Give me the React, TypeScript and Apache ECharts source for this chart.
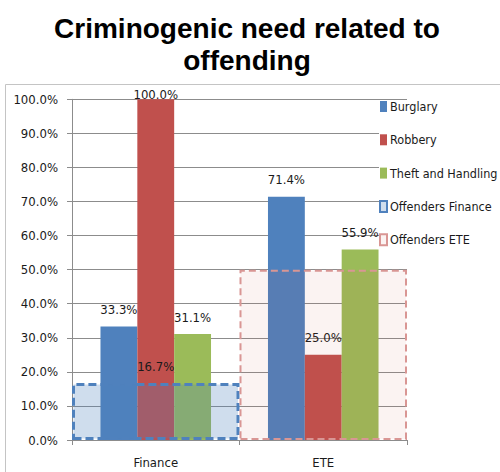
import React, { useEffect, useRef } from "react";
import * as echarts from "echarts";

// Categories and series values (percent)
const categories = ["Finance", "ETE"];
const burglary = [33.3, 71.4];
const robbery = [100.0, 25.0];
const theftAndHandling = [31.1, 55.9];
const offendersFinance: (number | string)[] = [16.7, "-"];
const offendersETE: (number | string)[] = ["-", 50.0];

const titleLines = ["Criminogenic need related to", "offending"];

const NARROW = '"DejaVu Sans Condensed", "Liberation Sans Narrow", sans-serif';
const TEXT = "#1a1a1a";
const GRID = "#8c8c8c";
const FS = 13;

const pct = (v: number) => v.toFixed(1) + "%";

export default function App() {
  const ref = useRef<HTMLDivElement>(null);

  useEffect(() => {
    if (!ref.current) return;
    const chart = echarts.init(ref.current, undefined, { renderer: "svg" });

    const valueLabel = {
      show: true,
      position: "top",
      distance: 10.5,
      color: TEXT,
      fontFamily: NARROW,
      fontSize: FS,
      lineHeight: FS,
      formatter: (p: any) => pct(p.value),
    };

    const robberyData = robbery.map((v) =>
      v >= 100 ? { value: v, label: { distance: -1.2 } } : v
    );

    chart.setOption({
      animation: false,
      backgroundColor: "#ffffff",
      title: {
        text: titleLines.join("\n"),
        left: 242,
        top: 7,
        textAlign: "center",
        textStyle: {
          fontFamily: "Arial, 'Liberation Sans', sans-serif",
          fontWeight: "bold",
          fontSize: 28,
          lineHeight: 32.5,
          color: "#000",
        },
      },
      graphic: [
        {
          type: "rect",
          shape: { x: 5.5, y: 84.5, width: 520, height: 420 },
          style: { fill: "none", stroke: "#c4c4c4", lineWidth: 1 },
          silent: true,
          z: -10,
        },
      ],
      legend: {
        orient: "vertical",
        left: 379,
        top: 100,
        padding: 0,
        itemGap: 20.3,
        itemWidth: 7,
        itemHeight: 11,
        backgroundColor: "#ffffff",
        icon: "rect",
        data: [
          "Burglary",
          "Robbery",
          "Theft and Handling",
          "Offenders Finance",
          "Offenders ETE",
        ],
        textStyle: {
          fontFamily: NARROW,
          fontSize: 12.5,
          lineHeight: FS,
          color: TEXT,
          padding: [0, 0, 0, -2],
        },
        z: 20,
      },
      grid: { left: 72, right: 93, top: 99.3, bottom: 32, containLabel: false },
      xAxis: [
        {
          type: "category",
          data: categories,
          axisLine: { show: true, lineStyle: { color: GRID } },
          axisTick: { show: true, length: 5, lineStyle: { color: GRID } },
          axisLabel: {
            color: TEXT,
            fontFamily: NARROW,
            fontSize: FS,
            margin: 16,
          },
        },
        {
          type: "category",
          data: categories,
          show: false,
        },
      ],
      yAxis: {
        type: "value",
        min: 0,
        max: 100,
        interval: 10,
        axisLine: { show: true, lineStyle: { color: GRID } },
        axisTick: { show: true, length: 5, lineStyle: { color: GRID } },
        splitLine: { show: true, lineStyle: { color: GRID, width: 1 } },
        axisLabel: {
          color: TEXT,
          fontFamily: NARROW,
          fontSize: FS,
          margin: 14,
          formatter: (v: number) => pct(v),
        },
      },
      series: [
        {
          name: "Burglary",
          type: "bar",
          data: burglary,
          barGap: "0%",
          barCategoryGap: "34%",
          itemStyle: { color: "#4f81bd" },
          label: valueLabel,
          z: 2,
        },
        {
          name: "Robbery",
          type: "bar",
          data: robberyData,
          barGap: "0%",
          barCategoryGap: "34%",
          itemStyle: { color: "#c0504d" },
          label: valueLabel,
          z: 2,
        },
        {
          name: "Theft and Handling",
          type: "bar",
          data: theftAndHandling,
          barGap: "0%",
          barCategoryGap: "34%",
          itemStyle: { color: "#9bbb59" },
          label: valueLabel,
          z: 2,
        },
        {
          name: "Offenders Finance",
          type: "bar",
          xAxisIndex: 1,
          data: offendersFinance,
          barWidth: "100%",
          barGap: "-100%",
          itemStyle: {
            color: "rgba(79,129,189,0.27)",
            borderColor: "#4f81bd",
            borderWidth: 3,
            borderType: [8, 4],
          },
          label: valueLabel,
          z: 3,
        },
        {
          name: "Offenders ETE",
          type: "bar",
          xAxisIndex: 1,
          data: offendersETE,
          barWidth: "100%",
          barGap: "-100%",
          itemStyle: {
            color: "rgba(192,80,77,0.07)",
            borderColor: "#d99694",
            borderWidth: 2,
            borderType: [7, 4],
          },
          z: 3,
        },
      ],
    });

    return () => chart.dispose();
  }, []);

  return (
    <div
      ref={ref}
      style={{ position: "fixed", left: 0, top: 0, width: 500, height: 472 }}
    />
  );
}
